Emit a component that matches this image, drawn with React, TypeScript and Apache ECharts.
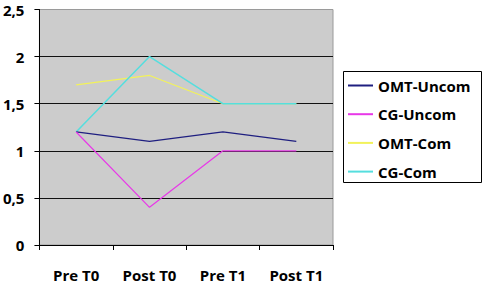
import React, { useEffect, useRef } from "react";
import * as echarts from "echarts";

const categories = ["Pre T0", "Post T0", "Pre T1", "Post T1"];
const seriesNames = ["OMT-Uncom", "CG-Uncom", "OMT-Com", "CG-Com"];
const omtUncom = [1.2, 1.1, 1.2, 1.1];
const cgUncom = [1.2, 0.4, 1.0, 1.0];
const omtCom = [1.7, 1.8, 1.5, 1.5];
const cgCom = [1.2, 2.0, 1.5, 1.5];
const seriesColors = ["#1f1f80", "#e838e8", "#f2f25a", "#55dede"];
const yTicks = [0, 0.5, 1, 1.5, 2, 2.5];

const FONT = "'Open Sans', sans-serif";

export default function App() {
  const ref = useRef<HTMLDivElement>(null);
  useEffect(() => {
    if (!ref.current) return;
    const chart = echarts.init(ref.current, null, { renderer: "svg" });
    const values = [omtUncom, cgUncom, omtCom, cgCom];
    chart.setOption({
      animation: false,
      backgroundColor: "#ffffff",
      textStyle: { fontFamily: FONT },
      grid: {
        left: 39,
        top: 9.5,
        right: 151,
        bottom: 40,
        show: true,
        backgroundColor: "#cccccc",
        borderColor: "#9a9a9a",
        borderWidth: 1,
      },
      xAxis: {
        type: "category",
        data: categories,
        boundaryGap: true,
        axisLine: { lineStyle: { color: "#000", width: 1 } },
        axisTick: { show: true, length: 5, lineStyle: { color: "#000" } },
        axisLabel: {
          color: "#000",
          fontWeight: "bold",
          fontSize: 15,
          fontFamily: FONT,
          margin: 22,
        },
        splitLine: { show: false },
      },
      yAxis: {
        type: "value",
        min: yTicks[0],
        max: yTicks[yTicks.length - 1],
        interval: 0.5,
        axisLine: { show: true, lineStyle: { color: "#000", width: 1 } },
        axisTick: { show: true, length: 5, lineStyle: { color: "#000" } },
        axisLabel: {
          color: "#000",
          fontWeight: "bold",
          fontSize: 15,
          fontFamily: FONT,
          margin: 15,
          formatter: (v: number) => String(v).replace(".", ","),
        },
        splitLine: {
          show: true,
          lineStyle: {
            color: ["#000", "#111", "#111", "#111", "#111", "#9a9a9a"],
            width: 1,
          },
        },
      },
      legend: {
        left: 347,
        top: 78,
        orient: "vertical",
        itemWidth: 25,
        itemHeight: 14,
        itemGap: 13.7,
        padding: 0,
        itemStyle: { opacity: 0 },
        textStyle: {
          color: "#000",
          fontWeight: "bold",
          fontSize: 15,
          fontFamily: FONT,
          padding: [0, 0, 0, 0],
        },
        data: seriesNames,
      },
      graphic: [
        {
          type: "rect",
          shape: { x: 343.5, y: 71.5, width: 138, height: 111 },
          style: { fill: "none", stroke: "#000", lineWidth: 1 },
          z: 10,
        },
      ],
      series: seriesNames.map((name, i) => ({
        name,
        type: "line",
        data: values[i],
        symbol: "none",
        color: seriesColors[i],
        lineStyle: { color: seriesColors[i], width: i === 3 ? 1.5 : 1.2 },
        z: i === 2 ? 2 : i === 3 ? 3 : 4,
      })),
    });
    return () => chart.dispose();
  }, []);
  return (
    <div
      ref={ref}
      style={{ position: "absolute", left: 0, top: 0, width: 484, height: 285 }}
    />
  );
}
